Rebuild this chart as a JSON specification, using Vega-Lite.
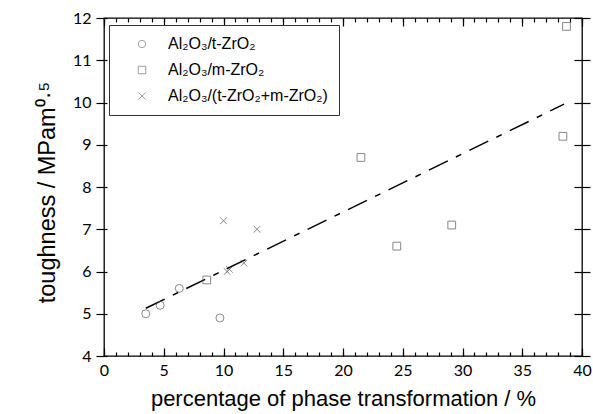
{
  "$schema": "https://vega.github.io/schema/vega-lite/v6.json",
  "width": 478,
  "height": 338,
  "autosize": "none",
  "padding": {"left": 104, "top": 18, "right": 11, "bottom": 58},
  "background": "white",
  "datasets": {
    "pts": [
      {"series": "Al₂O₃/t-ZrO₂", "x": 3.5, "y": 5.0},
      {"series": "Al₂O₃/t-ZrO₂", "x": 4.7, "y": 5.2},
      {"series": "Al₂O₃/t-ZrO₂", "x": 6.3, "y": 5.6},
      {"series": "Al₂O₃/t-ZrO₂", "x": 9.7, "y": 4.9},
      {"series": "Al₂O₃/m-ZrO₂", "x": 8.6, "y": 5.8},
      {"series": "Al₂O₃/m-ZrO₂", "x": 21.5, "y": 8.7},
      {"series": "Al₂O₃/m-ZrO₂", "x": 24.5, "y": 6.6},
      {"series": "Al₂O₃/m-ZrO₂", "x": 29.1, "y": 7.1},
      {"series": "Al₂O₃/m-ZrO₂", "x": 38.4, "y": 9.2},
      {"series": "Al₂O₃/m-ZrO₂", "x": 38.7, "y": 11.8},
      {"series": "Al₂O₃/(t-ZrO₂+m-ZrO₂)", "x": 10.0, "y": 7.2},
      {"series": "Al₂O₃/(t-ZrO₂+m-ZrO₂)", "x": 10.3, "y": 6.0},
      {"series": "Al₂O₃/(t-ZrO₂+m-ZrO₂)", "x": 10.5, "y": 6.05},
      {"series": "Al₂O₃/(t-ZrO₂+m-ZrO₂)", "x": 11.7, "y": 6.2},
      {"series": "Al₂O₃/(t-ZrO₂+m-ZrO₂)", "x": 12.8, "y": 7.0}
    ],
    "fit": [
      {"x": 3.5, "y": 5.13},
      {"x": 38.5, "y": 9.96}
    ]
  },
  "config": {
    "view": {"stroke": "black", "strokeWidth": 1.3},
    "axis": {
      "domain": false,
      "grid": false,
      "labelFlush": false,
      "labelOverlap": false,
      "tickColor": "black",
      "tickWidth": 1.2,
      "labelColor": "black",
      "titleColor": "black",
      "labelFont": "Lato",
      "labelFontSize": 16,
      "titleFont": "Liberation Sans",
      "titleFontSize": 22,
      "titleFontWeight": "normal"
    }
  },
  "resolve": {"axis": {"x": "independent", "y": "independent"}},
  "layer": [
    {
      "data": {"name": "fit"},
      "mark": {"type": "line", "color": "black", "strokeWidth": 1.5, "strokeDash": [21, 9, 6, 9]},
      "encoding": {
        "x": {"field": "x", "type": "quantitative", "scale": {"domain": [0, 40], "nice": false, "zero": false},
          "axis": {"orient": "bottom", "values": [0, 5, 10, 15, 20, 25, 30, 35, 40], "tickSize": -8, "labelPadding": 14,
            "title": "percentage of phase transformation / %", "titlePadding": 10}},
        "y": {"field": "y", "type": "quantitative", "scale": {"domain": [4, 12], "nice": false, "zero": false},
          "axis": {"orient": "left", "values": [4, 5, 6, 7, 8, 9, 10, 11, 12], "tickSize": 8, "labelPadding": 5,
            "title": "toughness / MPam⁰·⁵", "titlePadding": 13, "titleY": 174, "titleFontSize": 23.5}}
      }
    },
    {
      "data": {"name": "pts"},
      "transform": [{"filter": "datum.series === 'Al₂O₃/t-ZrO₂'"}],
      "mark": {"type": "point", "filled": false, "color": "#555", "strokeWidth": 1, "size": 64},
      "encoding": {
        "x": {"field": "x", "type": "quantitative",
          "axis": {"orient": "bottom", "values": [0,1,2,3,4,5,6,7,8,9,10,11,12,13,14,15,16,17,18,19,20,21,22,23,24,25,26,27,28,29,30,31,32,33,34,35,36,37,38,39,40], "tickSize": -4, "labels": false, "title": null}},
        "y": {"field": "y", "type": "quantitative",
          "axis": {"orient": "right", "values": [4, 5, 6, 7, 8, 9, 10, 11, 12], "tickSize": 8, "labels": false, "title": null}},
        "shape": {"field": "series", "type": "nominal",
          "scale": {"domain": ["Al₂O₃/t-ZrO₂", "Al₂O₃/m-ZrO₂", "Al₂O₃/(t-ZrO₂+m-ZrO₂)"], "range": ["circle", "square", "M-1,-1L1,1M1,-1L-1,1"]},
          "legend": {"orient": "none", "legendX": 5, "legendY": 7, "title": null, "strokeColor": "#333", "fillColor": "white",
            "padding": 11, "symbolOffset": 14, "labelOffset": 18, "rowPadding": 10, "symbolSize": 55,
            "symbolStrokeColor": "#777", "symbolStrokeWidth": 1, "symbolFillColor": "transparent",
            "labelFont": "Liberation Sans", "labelFontSize": 16, "labelColor": "black", "labelLimit": 400}}
      }
    },
    {
      "data": {"name": "pts"},
      "transform": [{"filter": "datum.series === 'Al₂O₃/m-ZrO₂'"}],
      "mark": {"type": "point", "filled": false, "color": "#555", "strokeWidth": 1, "size": 60},
      "encoding": {
        "x": {"field": "x", "type": "quantitative",
          "axis": {"orient": "top", "values": [0, 5, 10, 15, 20, 25, 30, 35, 40], "tickSize": -8, "labels": false, "title": null}},
        "y": {"field": "y", "type": "quantitative",
          "axis": {"orient": "right", "values": [4, 5, 6, 7, 8, 9, 10, 11, 12], "tickSize": -8, "labels": false, "title": null}},
        "shape": {"field": "series", "type": "nominal"}
      }
    },
    {
      "data": {"name": "pts"},
      "transform": [{"filter": "datum.series === 'Al₂O₃/(t-ZrO₂+m-ZrO₂)'"}],
      "mark": {"type": "point", "filled": false, "color": "#555", "strokeWidth": 1, "size": 45},
      "encoding": {
        "x": {"field": "x", "type": "quantitative",
          "axis": {"orient": "top", "values": [0,1,2,3,4,5,6,7,8,9,10,11,12,13,14,15,16,17,18,19,20,21,22,23,24,25,26,27,28,29,30,31,32,33,34,35,36,37,38,39,40], "tickSize": -4, "labels": false, "title": null}},
        "y": {"field": "y", "type": "quantitative",
          "axis": {"orient": "left", "values": [4, 5, 6, 7, 8, 9, 10, 11, 12], "tickSize": -3, "labels": false, "title": null}},
        "shape": {"field": "series", "type": "nominal"}
      }
    }
  ]
}
